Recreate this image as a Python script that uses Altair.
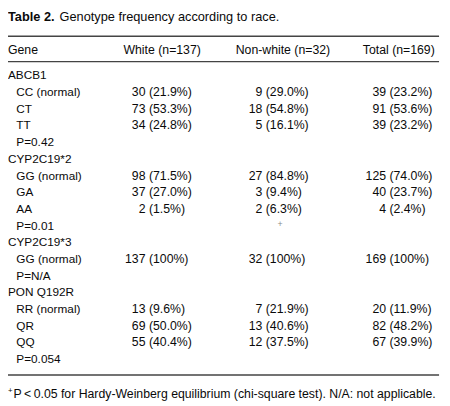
import altair as alt
import pandas as pd

# ---------------- data ----------------
title_bold = "Table 2."
title_rest = "Genotype frequency according to race."
headers = ["Gene", "White (n=137)", "Non-white (n=32)", "Total (n=169)"]
genes = ["ABCB1", "CYP2C19*2", "CYP2C19*3", "PON Q192R"]
genotypes = [["CC (normal)", "CT", "TT"],
             ["GG (normal)", "GA", "AA"],
             ["GG (normal)"],
             ["RR (normal)", "QR", "QQ"]]
p_values = ["P=0.42", "P=0.01", "P=N/A", "P=0.054"]
p_marks = ["", "+", "", ""]

white_n = [30, 73, 34, 98, 37, 2, 137, 13, 69, 55]
white_pct = [21.9, 53.3, 24.8, 71.5, 27.0, 1.5, 100, 9.6, 50.0, 40.4]
nonwhite_n = [9, 18, 5, 27, 3, 2, 32, 7, 13, 12]
nonwhite_pct = [29.0, 54.8, 16.1, 84.8, 9.4, 6.3, 100, 21.9, 40.6, 37.5]
total_n = [39, 91, 39, 125, 40, 4, 169, 20, 82, 67]
total_pct = [23.2, 53.6, 23.2, 74.0, 23.7, 2.4, 100, 11.9, 48.2, 39.9]

footnote_mark = "+"
footnote = "P\u2009<\u20090.05 for Hardy-Weinberg equilibrium (chi-square test). N/A: not applicable."

# ---------------- tables ----------------
def fmt_pct(v):
    return f"({v:.0f}%)" if v == 100 else f"({v:.1f}%)"

cols = {"white": (white_n, white_pct),
        "nonwhite": (nonwhite_n, nonwhite_pct),
        "total": (total_n, total_pct)}

rows, cells = [], []
r, k = 0, 0
for gi, g in enumerate(genes):
    rows.append(dict(row=r, label=g, kind="group", mark=""))
    r += 1
    for gt in genotypes[gi]:
        rows.append(dict(row=r, label=gt, kind="geno", mark=""))
        for c, (ns, ps) in cols.items():
            cells.append(dict(row=r, col=c, count=str(ns[k]), pct=fmt_pct(ps[k])))
        k += 1
        r += 1
    rows.append(dict(row=r, label=p_values[gi], kind="p", mark=p_marks[gi]))
    r += 1

rows_df = pd.DataFrame(rows)
cells_df = pd.DataFrame(cells)
n_rows = len(rows_df)

# ---------------- layout ----------------
FONT = "Liberation Sans"
TXT = "#0a0a0a"
RULE = "#444444"
W, H = 442, 398

Y = alt.Y("row:Q", scale=alt.Scale(domain=[0, n_rows - 1], range=[65, 354]), axis=None)
base_txt = dict(baseline="middle", font=FONT, fontSize=12, color=TXT)
val_txt = {**base_txt, "fontSize": 12.5}

layers = []
one = alt.Data(values=[{}])

# title
layers.append(alt.Chart(one).mark_text(align="left", fontWeight="bold", **{**base_txt, "fontSize": 13})
              .encode(x=alt.value(0), y=alt.value(6), text=alt.value(title_bold)))
layers.append(alt.Chart(one).mark_text(align="left", **{**base_txt, "fontSize": 13})
              .encode(x=alt.value(52.5), y=alt.value(6), text=alt.value(title_rest)))

# rules
for yv, sw in [(25, 1.5), (51, 1.2), (370, 1.5)]:
    layers.append(alt.Chart(one).mark_rule(color=RULE, strokeWidth=sw)
                  .encode(x=alt.value(0), x2=alt.value(439), y=alt.value(yv)))

# headers
hdr_pos = [(0, "left"), (157, "center"), (280, "center"), (398, "center")]
for h, (xv, al) in zip(headers, hdr_pos):
    layers.append(alt.Chart(one).mark_text(align=al, **{**base_txt, "fontSize": 12.5})
                  .encode(x=alt.value(xv), y=alt.value(39), text=alt.value(h)))

# row labels
layers.append(alt.Chart(rows_df).transform_filter(alt.datum.kind == "group")
              .mark_text(align="left", **base_txt)
              .encode(x=alt.value(0), y=Y, text="label:N"))
layers.append(alt.Chart(rows_df).transform_filter(alt.datum.kind != "group")
              .mark_text(align="left", **base_txt)
              .encode(x=alt.value(8.5), y=Y, text="label:N"))

# HWE mark in table
layers.append(alt.Chart(rows_df).transform_filter(alt.datum.mark != "")
              .mark_text(align="center", baseline="middle", font=FONT, fontSize=9, color="#8a8a8a", dy=-2)
              .encode(x=alt.value(277), y=Y, text="mark:N"))

# cell values: count right-aligned, percentage left-aligned
col_x = {"white": 140, "nonwhite": 259, "total": 385}
for c, xv in col_x.items():
    layers.append(alt.Chart(cells_df).transform_filter(alt.datum.col == c)
                  .mark_text(align="right", **val_txt)
                  .encode(x=alt.value(xv), y=Y, text="count:N"))
    layers.append(alt.Chart(cells_df).transform_filter(alt.datum.col == c)
                  .mark_text(align="left", **val_txt)
                  .encode(x=alt.value(xv + 3.5), y=Y, text="pct:N"))

# footnote
layers.append(alt.Chart(one).mark_text(align="left", baseline="middle", font=FONT, fontSize=8, color=TXT)
              .encode(x=alt.value(0), y=alt.value(386), text=alt.value(footnote_mark)))
layers.append(alt.Chart(one).mark_text(align="left", **{**base_txt, "fontSize": 12.5})
              .encode(x=alt.value(5.5), y=alt.value(390), text=alt.value(footnote)))

chart = alt.layer(*layers).properties(
    width=W, height=H, padding=0,
    autosize=alt.AutoSizeParams(type="none"),
    background="white",
).configure_view(strokeWidth=0)

chart.save("out.html", embed_options={"renderer": "svg", "actions": False})
